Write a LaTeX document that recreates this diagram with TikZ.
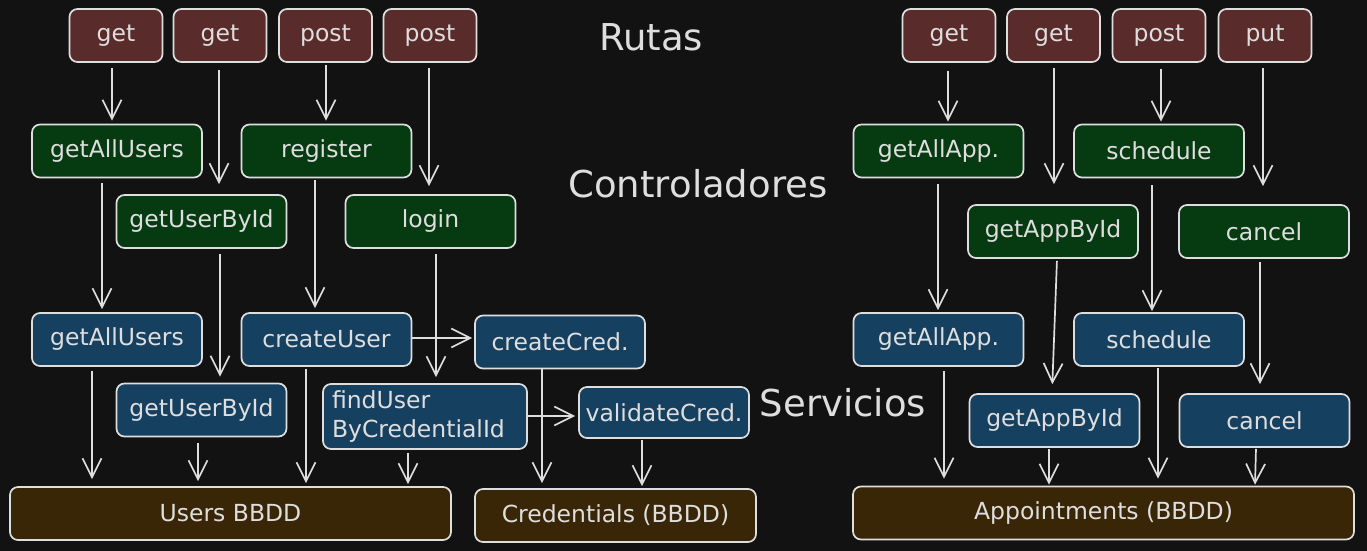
\documentclass[tikz,border=0pt]{standalone}
\usepackage{fontspec}
\setmainfont{DejaVu Sans}
\usetikzlibrary{arrows.meta}
\definecolor{bg}{HTML}{121212}
\definecolor{ink}{HTML}{DEDEDE}
\definecolor{route}{HTML}{5A2B2B}
\definecolor{ctrl}{HTML}{063B12}
\definecolor{serv}{HTML}{164060}
\definecolor{dbc}{HTML}{382606}
\begin{document}
\begin{tikzpicture}[x=1pt,y=-1pt,
  box/.style={draw=ink,line width=1.7pt,rounded corners=8pt,text=ink,inner sep=0pt,
    font=\fontsize{23.5}{29}\selectfont},
  rt/.style={box,fill=route,minimum width=93pt,minimum height=53pt},
  ct/.style={box,fill=ctrl,minimum width=170pt,minimum height=53pt},
  sv/.style={box,fill=serv,minimum width=170pt,minimum height=53pt},
  db/.style={box,fill=dbc,minimum height=53pt},
  ttl/.style={text=ink,font=\fontsize{37}{42}\selectfont},
  arr/.style={draw=ink,line width=1.7pt,-{Straight Barb[length=19pt,width=19pt,line width=1.7pt]}}]
\fill[bg] (0,0) rectangle (1367,551);
\useasboundingbox (0,0) rectangle (1367,551);
% routes
\node[rt] (get1) at (116,35.5) {get};
\node[rt] (get2) at (220,35.5) {get};
\node[rt] (post1) at (325.5,35.5) {post};
\node[rt] (post2) at (430,35.5) {post};
\node[rt] (get3) at (949,35.5) {get};
\node[rt] (get4) at (1053.5,35.5) {get};
\node[rt] (post3) at (1159,35.5) {post};
\node[rt] (put) at (1265,35.5) {put};
% titles
\node[ttl] (tRutas) at (651,37) {Rutas};
\node[ttl] (tCtrl) at (698,184) {Controladores};
\node[ttl] (tServ) at (843,403) {Servicios};
% controllers
\node[ct] (gauC) at (117,151) {getAllUsers};
\node[ct] (regC) at (326.5,151) {register};
\node[ct] (gubC) at (201.5,221.5) {getUserById};
\node[ct] (logC) at (430.5,221.5) {login};
\node[ct] (gaaC) at (938.5,151) {getAllApp.};
\node[ct] (schC) at (1159,151) {schedule};
\node[ct] (gabC) at (1053,231.5) {getAppById};
\node[ct] (canC) at (1264,231.5) {cancel};
% services
\node[sv] (gauS) at (117,339.5) {getAllUsers};
\node[sv] (cuS) at (326.5,339.5) {createUser};
\node[sv] (gubS) at (201.5,410) {getUserById};
\node[sv] (ccS) at (560,342) {createCred.};
\node[sv,minimum width=204pt,minimum height=65pt,align=left,
  text width=186pt] (fuS) at (425,416.5) {findUser\\ByCredentialId};
\node[sv,minimum height=51pt] (vcS) at (664,412.5) {validateCred.};
\node[sv] (gaaS) at (938.5,339.5) {getAllApp.};
\node[sv] (schS) at (1159,339.5) {schedule};
\node[sv] (gabS) at (1054.5,420.5) {getAppById};
\node[sv] (canS) at (1264.5,420.5) {cancel};
% databases
\node[db,minimum width=441pt] (users) at (230.5,513.5) {Users BBDD};
\node[db,minimum width=281pt] (creds) at (615.5,515.5) {Credentials (BBDD)};
\node[db,minimum width=501pt] (appts) at (1103.5,513) {Appointments (BBDD)};
% left arrows
\draw[arr,shorten <=5pt,shorten >=3pt] ([xshift=-4pt]get1.south) -- ([xshift=-5pt]gauC.north);
\draw[arr,shorten <=7pt,shorten >=10pt] ([xshift=-1pt]get2.south) -- ([xshift=17.5pt]gubC.north);
\draw[arr,shorten <=2pt,shorten >=3pt] ([xshift=0.5pt]post1.south) -- ([xshift=-0.5pt]regC.north);
\draw[arr,shorten <=5pt,shorten >=8pt] ([xshift=-1pt]post2.south) -- ([xshift=-1.5pt]logC.north);
\draw[arr,shorten <=5pt,shorten >=3pt] ([xshift=-15pt]gauC.south) -- ([xshift=-15pt]gauS.north);
\draw[arr,shorten <=5pt,shorten >=6pt] ([xshift=18.5pt]gubC.south) -- ([xshift=18.5pt]gubS.north);
\draw[arr,shorten <=2pt,shorten >=4pt] ([xshift=-11.5pt]regC.south) -- ([xshift=-11.5pt]cuS.north);
\draw[arr,shorten <=5pt,shorten >=6pt] ([xshift=5.5pt]logC.south) -- ([xshift=11pt]fuS.north);
\draw[arr,shorten >=2pt] ([yshift=1.5pt]cuS.east) -- ([yshift=4pt]ccS.west);
\draw[arr,shorten <=4pt,shorten >=7pt] ([xshift=-25pt]gauS.south) -- ([xshift=-138.5pt]users.north);
\draw[arr,shorten <=6pt,shorten >=5pt] ([xshift=-3.5pt]gubS.south) -- ([xshift=-32.5pt]users.north);
\draw[arr,shorten <=2pt,shorten >=3pt] ([xshift=-20.5pt]cuS.south) -- ([xshift=75.5pt]users.north);
\draw[arr,shorten <=3pt,shorten >=2pt] ([xshift=-17pt]fuS.south) -- ([xshift=177.5pt]users.north);
\draw[arr,shorten >=3pt] ([yshift=0.5pt]fuS.east) -- ([yshift=-3.5pt]vcS.west);
\draw[arr,shorten >=5pt] ([xshift=-18pt]ccS.south) -- ([xshift=-73.5pt]creds.north);
\draw[arr,shorten <=1pt,shorten >=2pt] ([xshift=-22pt]vcS.south) -- ([xshift=26.5pt]creds.north);
% right arrows
\draw[arr,shorten <=8pt,shorten >=2pt] ([xshift=-1pt]get3.south) -- ([xshift=9.5pt]gaaC.north);
\draw[arr,shorten <=5pt,shorten >=20pt] ([xshift=0.5pt]get4.south) -- ([xshift=1pt]gabC.north);
\draw[arr,shorten <=6pt,shorten >=2pt] ([xshift=2pt]post3.south) -- ([xshift=2pt]schC.north);
\draw[arr,shorten <=5pt,shorten >=18pt] ([xshift=-2pt]put.south) -- ([xshift=-1pt]canC.north);
\draw[arr,shorten <=6pt,shorten >=2pt] ([xshift=-0.5pt]gaaC.south) -- ([xshift=-0.5pt]gaaS.north);
\draw[arr,shorten <=2pt,shorten >=9pt] ([xshift=4pt]gabC.south) -- ([xshift=-2.5pt]gabS.north);
\draw[arr,shorten <=7pt,shorten >=1pt] ([xshift=-7pt]schC.south) -- ([xshift=-7pt]schS.north);
\draw[arr,shorten <=3pt,shorten >=9pt] ([xshift=-4pt]canC.south) -- ([xshift=-4.5pt]canS.north);
\draw[arr,shorten <=4pt,shorten >=7pt] ([xshift=5.5pt]gaaS.south) -- ([xshift=-159.5pt]appts.north);
\draw[arr,shorten <=1pt,shorten >=1pt] ([xshift=-5.5pt]gabS.south) -- ([xshift=-54.5pt]appts.north);
\draw[arr,shorten <=1pt,shorten >=7pt] ([xshift=-1pt]schS.south) -- ([xshift=54.5pt]appts.north);
\draw[arr,shorten <=1pt,shorten >=1pt] ([xshift=-8.5pt]canS.south) -- ([xshift=151.5pt]appts.north);
\end{tikzpicture}
\end{document}
